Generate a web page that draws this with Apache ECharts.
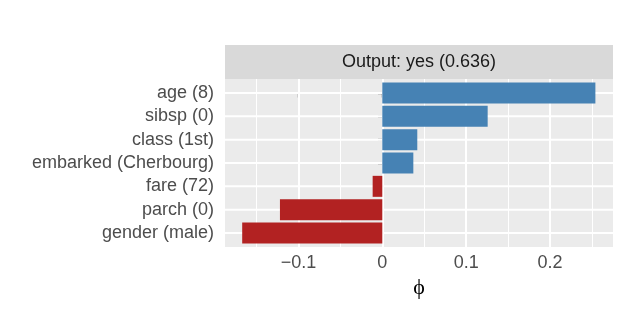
<!DOCTYPE html>
<html>
<head>
<meta charset="utf-8">
<script src="https://cdn.jsdelivr.net/npm/echarts@6/dist/echarts.min.js"></script>
<style>
html,body{margin:0;padding:0;background:#fff;}
#c{width:623px;height:314px;}
</style>
</head>
<body>
<div id="c"></div>
<script>
const categories = ['age (8)', 'sibsp (0)', 'class (1st)', 'embarked (Cherbourg)', 'fare (72)', 'parch (0)', 'gender (male)'];
const phiValues = [0.254, 0.1256, 0.0417, 0.037, -0.0115, -0.122, -0.167];
const xTicks = [-0.1, 0, 0.1, 0.2];
const xMinorTicks = [-0.15, -0.05, 0.05, 0.15, 0.25];
const stripTitle = 'Output: yes (0.636)';
const xTitle = 'ϕ';

const X_MIN = -0.1875, X_MAX = 0.275;
const POS = '#4682B4', NEG = '#B22222';
const FONT = 'Liberation Sans, Arial, sans-serif';

const chart = echarts.init(document.getElementById('c'), null, {renderer: 'canvas'});
const fmt = v => v === 0 ? '0' : (v < 0 ? '\u2212' + String(Math.abs(v)) : String(v));
const Y_MIN = -0.6, Y_MAX = categories.length - 1 + 0.6;

const majorLine = {color: '#FFFFFF', width: 2, type: 'solid'};
const minorLine = {color: '#FFFFFF', width: 1.1, type: 'solid'};

chart.setOption({
  animation: false,
  backgroundColor: '#fff',
  textStyle: {fontFamily: FONT},
  grid: [
    {left: 225, right: 10, top: 81.33, bottom: 69.33, containLabel: false},
    {left: 225, right: 10, top: 79, bottom: 67, show: true, backgroundColor: '#EBEBEB', borderWidth: 0, z: 0},
    {left: 225, right: 10, top: 45, height: 34, show: true, backgroundColor: '#D9D9D9', borderWidth: 0, z: 0}
  ],
  xAxis: [
    {type: 'value', gridIndex: 0, min: X_MIN, max: X_MAX, show: false},
    {type: 'value', gridIndex: 1, min: X_MIN, max: X_MAX,
     axisLine: {show: false}, splitLine: {show: false},
     axisTick: {show: true, length: 4.5, customValues: xTicks, lineStyle: {color: '#333333', width: 1.3}},
     axisLabel: {customValues: xTicks, formatter: fmt, color: '#4D4D4D', fontSize: 18, margin: 7, fontFamily: FONT},
     name: xTitle, nameLocation: 'middle', nameGap: 30,
     nameTextStyle: {fontSize: 22, color: '#000', fontFamily: 'Liberation Serif, DejaVu Serif, serif'}},
    {type: 'value', gridIndex: 2, show: false}
  ],
  yAxis: [
    {type: 'category', gridIndex: 0, data: categories, inverse: true,
     axisLine: {show: false}, splitLine: {show: false},
     axisTick: {show: true, alignWithLabel: true, interval: 0, length: 4.5, lineStyle: {color: '#333333', width: 1.3}},
     axisLabel: {interval: 0, color: '#4D4D4D', fontSize: 18, margin: 11, fontFamily: FONT}},
    // same category positions expressed as indices, with ggplot's 0.6 expansion
    {type: 'value', gridIndex: 1, min: Y_MIN, max: Y_MAX, inverse: true, show: false},
    {type: 'value', gridIndex: 2, show: false}
  ],
  graphic: [{
    type: 'text', x: 419, y: 62, z: 10,
    style: {text: stripTitle, fill: '#1A1A1A', fontSize: 18, fontFamily: FONT, align: 'center', verticalAlign: 'middle'}
  }],
  series: [
    {
      type: 'line', xAxisIndex: 1, yAxisIndex: 1, data: [[0, 0]], showSymbol: false, silent: true, z: 1,
      lineStyle: {opacity: 0},
      markLine: {
        silent: true, symbol: 'none', label: {show: false}, animation: false, z: 1,
        data: []
          .concat(xMinorTicks.map(v => [{coord: [v, Y_MIN], lineStyle: minorLine}, {coord: [v, Y_MAX]}]))
          .concat(xTicks.map(v => [{coord: [v, Y_MIN], lineStyle: majorLine}, {coord: [v, Y_MAX]}]))
      }
    },
    {
      // horizontal major gridlines at each category centre
      type: 'custom', xAxisIndex: 1, yAxisIndex: 1, silent: true, z: 2, clip: false,
      data: categories.map((c, i) => [0, i]),
      renderItem: (params, api) => {
        const y = api.value(1);
        const p1 = api.coord([X_MIN, y]);
        const p2 = api.coord([X_MAX, y]);
        return {
          type: 'line',
          shape: {x1: p1[0], y1: p1[1], x2: p2[0], y2: p2[1]},
          style: {stroke: '#FFFFFF', lineWidth: 2}
        };
      }
    },
    {
      type: 'bar', xAxisIndex: 0, yAxisIndex: 0, z: 3, barWidth: '90%',
      data: phiValues.map(v => ({value: v, itemStyle: {color: v >= 0 ? POS : NEG}}))
    }
  ]
});
</script>
</body>
</html>
